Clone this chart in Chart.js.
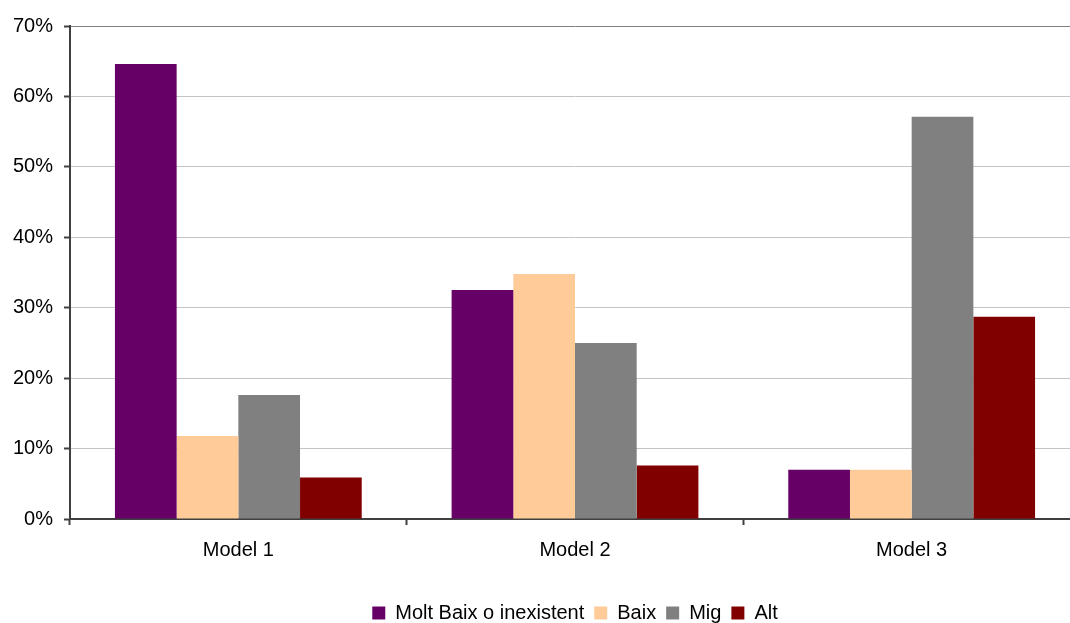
<!DOCTYPE html>
<html>
<head>
<meta charset="utf-8">
<script src="https://cdn.jsdelivr.net/npm/chart.js@4/dist/chart.umd.min.js"></script>
<style>
  html, body { margin: 0; padding: 0; background: #fff; overflow: hidden; }
  #wrap { width: 1070px; height: 623px; overflow: hidden; position: relative; }
  canvas { display: block; }
</style>
</head>
<body>
<div id="wrap"><canvas id="chart" width="1150" height="633" style="width:1150px;height:633px"></canvas></div>
<script>
// Categories and series (percent)
const categories = ['Model 1', 'Model 2', 'Model 3'];
const seriesNames = ['Molt Baix o inexistent', 'Baix', 'Mig', 'Alt'];
const moltBaix = [64.6, 32.5, 7.0];
const baix = [11.8, 34.8, 7.0];
const mig = [17.6, 25.0, 57.1];
const alt = [5.9, 7.6, 28.7];
const yTickValues = [0, 10, 20, 30, 40, 50, 60, 70];

const colors = ['#660066', '#FFCC99', '#808080', '#800000'];
const seriesValues = [moltBaix, baix, mig, alt];

const FONT = { family: "'Liberation Sans', Arial, sans-serif", size: 20 };

new Chart(document.getElementById('chart'), {
  type: 'bar',
  data: {
    labels: categories,
    datasets: seriesNames.map((name, i) => ({
      label: name,
      data: seriesValues[i],
      backgroundColor: colors[i],
      borderWidth: 0,
      categoryPercentage: 0.733,
      barPercentage: 1.0,
      yAxisID: 'y'
    }))
  },
  options: {
    responsive: false,
    animation: false,
    layout: { padding: { top: 26, left: 0, right: 0, bottom: 0 } },
    plugins: {
      tooltip: { enabled: false },
      legend: {
        position: 'bottom',
        labels: {
          boxWidth: 13,
          boxHeight: 13,
          padding: 10,
          color: '#000',
          font: FONT
        }
      }
    },
    scales: {
      x: {
        grid: {
          offset: true,
          drawOnChartArea: false,
          drawTicks: true,
          tickLength: 6,
          tickColor: '#404040',
          tickWidth: 2
        },
        border: { display: true, color: '#404040', width: 2 },
        ticks: { color: '#000', font: FONT, padding: 13, maxRotation: 0 },
        afterFit: s => { s.height = 74; }
      },
      y: {
        position: 'left',
        min: 0,
        max: 70,
        afterBuildTicks: s => { s.ticks = yTickValues.map(v => ({ value: v })); },
        grid: {
          color: c => (c.tick && c.tick.value === 70) ? '#808080' : '#c4c4c4',
          lineWidth: 1,
          drawTicks: true,
          tickLength: 6,
          tickColor: '#404040',
          tickWidth: 2
        },
        border: { display: true, color: '#404040', width: 2 },
        ticks: {
          color: '#000',
          font: FONT,
          padding: 11,
          callback: v => v + '%'
        },
        afterFit: s => { s.width = 70; }
      },
      yRight: {
        position: 'right',
        display: true,
        grid: { display: false, drawTicks: false },
        border: { display: false },
        ticks: { display: false },
        afterFit: s => { s.width = 70; }
      }
    }
  }
});
</script>
</body>
</html>
